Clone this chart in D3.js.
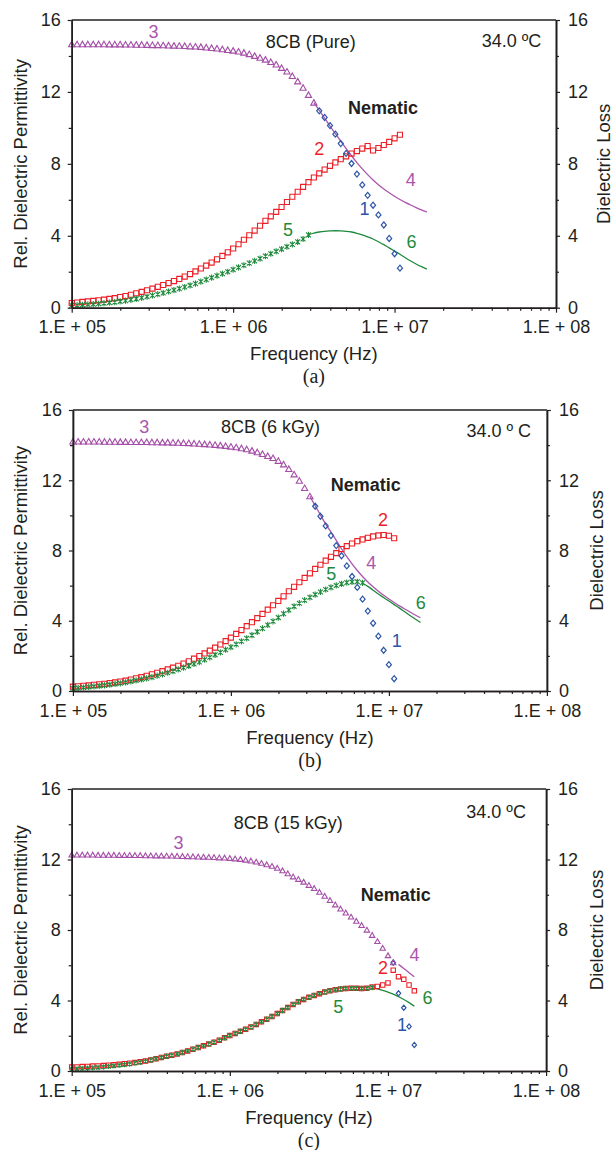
<!DOCTYPE html>
<html>
<head>
<meta charset="utf-8">
<script src="https://cdn.jsdelivr.net/npm/d3@7"></script>
<style>
  body { margin: 0; background: #fff; }
  svg { display: block; }
  text { font-family: "Liberation Sans", Arial, Helvetica, sans-serif; fill: #231f20; }
</style>
</head>
<body>
<svg id="fig" width="615" height="1150"></svg>
<script>
// ---- axis ticks ----
const decadeTicks = [1e5, 1e6, 1e7, 1e8];
const decadeLabels = ["1.E + 05", "1.E + 06", "1.E + 07", "1.E + 08"];
const minorMultipliers = [2, 3, 4, 5, 6, 7, 8, 9];
const yMajor = [0, 4, 8, 12, 16];
const yMinor = [2, 6, 10, 14];

// ---- frequency sweep: 30 points per decade starting at 100 kHz ----
const sweepStart = 1e5;
const pointsPerDecade = 30;

// ---- (a) 8CB pure ----
const aPerm3 = [14.65, 14.65, 14.65, 14.65, 14.65, 14.65, 14.65, 14.64, 14.64, 14.64, 14.63, 14.63, 14.62,
  14.62, 14.61, 14.60, 14.60, 14.59, 14.58, 14.57, 14.56, 14.55, 14.53, 14.52, 14.50,
  14.47, 14.44, 14.41, 14.37, 14.33, 14.29, 14.24, 14.18, 14.10, 14.00,
  13.90, 13.79, 13.66, 13.52, 13.33, 13.13, 12.88, 12.58, 12.23, 11.83, 11.40];
const aPerm1 = [10.95, 10.58, 10.13, 9.65, 9.13, 8.58, 8.02, 7.43, 6.83, 6.25, 5.70, 5.16, 4.60, 3.85, 3.00, 2.20];
const aFit4 = [11.40, 10.97, 10.55, 10.10, 9.68, 9.26, 8.85, 8.45, 8.07, 7.72, 7.40, 7.10, 6.84, 6.60, 6.39,
  6.20, 6.02, 5.86, 5.71, 5.57, 5.44, 5.32];
const aLoss2 = [0.26, 0.29, 0.32, 0.35, 0.38, 0.41, 0.45, 0.49, 0.53, 0.59,
  0.65, 0.72, 0.80, 0.88, 0.97, 1.06, 1.16, 1.26, 1.37, 1.48,
  1.60, 1.73, 1.87, 2.02, 2.18, 2.34, 2.51, 2.69, 2.88, 3.08,
  3.29, 3.53, 3.78, 4.03, 4.29, 4.56, 4.83, 5.08, 5.33, 5.60,
  5.88, 6.17, 6.45, 6.72, 6.98, 7.24, 7.47, 7.68, 7.89, 8.08,
  8.26, 8.42, 8.57, 8.71, 8.85, 8.99, 8.74, 8.88, 9.05, 9.22, 9.42, 9.62];
const aLoss5 = [0.13, 0.14, 0.16, 0.18, 0.20, 0.22, 0.25, 0.28, 0.31, 0.35,
  0.39, 0.44, 0.49, 0.55, 0.61, 0.68, 0.75, 0.82, 0.90, 0.98,
  1.06, 1.15, 1.24, 1.34, 1.45, 1.56, 1.67, 1.78, 1.89, 2.00,
  2.12, 2.24, 2.36, 2.48, 2.60, 2.73, 2.87, 3.00, 3.13, 3.26,
  3.39, 3.52, 3.66, 3.82, 4.05];
const aFit6 = [4.06, 4.15, 4.21, 4.25, 4.27, 4.28, 4.27, 4.25, 4.21, 4.14, 4.05, 3.94, 3.82, 3.67, 3.51,
  3.33, 3.15, 2.97, 2.78, 2.60, 2.43, 2.28, 2.14];
const aStart = { perm3: 0, perm1: 46, fit4: 45, loss2: 0, loss5: 0, fit6: 44 };

// ---- (b) 8CB 6 kGy ----
const bPerm3 = [14.20, 14.20, 14.20, 14.20, 14.20, 14.20, 14.19, 14.19, 14.19, 14.18, 14.18, 14.17, 14.17,
  14.17, 14.17, 14.16, 14.16, 14.15, 14.15, 14.14, 14.13, 14.12, 14.11, 14.09, 14.07,
  14.05, 14.03, 14.01, 13.98, 13.95, 13.91, 13.87, 13.82, 13.76, 13.68,
  13.59, 13.49, 13.38, 13.26, 13.10, 12.90, 12.64, 12.33, 11.97, 11.55, 11.08];
const bPerm1 = [10.52, 9.95, 9.40, 8.85, 8.28, 7.70, 7.12, 6.52, 5.90, 5.23, 4.55, 3.86, 3.12, 2.32, 1.50, 0.70];
const bFit4 = [11.08, 10.55, 10.03, 9.50, 9.05, 8.58, 8.10, 7.65, 7.24, 6.86, 6.52, 6.21, 5.93, 5.68, 5.45,
  5.24, 5.04, 4.85, 4.67, 4.50, 4.33, 4.17];
const bLoss2 = [0.25, 0.27, 0.30, 0.32, 0.35, 0.38, 0.41, 0.45, 0.49, 0.54,
  0.59, 0.65, 0.72, 0.79, 0.87, 0.95, 1.04, 1.13, 1.23, 1.33,
  1.44, 1.56, 1.69, 1.84, 1.99, 2.14, 2.30, 2.47, 2.65, 2.84,
  3.04, 3.25, 3.47, 3.69, 3.92, 4.15, 4.39, 4.63, 4.88, 5.13,
  5.39, 5.68, 5.93, 6.19, 6.44, 6.70, 6.95, 7.19, 7.42, 7.64,
  7.85, 8.08, 8.25, 8.40, 8.53, 8.63, 8.72, 8.80, 8.86, 8.88, 8.84, 8.70];
const bLoss5 = [0.15, 0.17, 0.20, 0.23, 0.26, 0.29, 0.32, 0.36, 0.40, 0.44,
  0.49, 0.54, 0.60, 0.66, 0.72, 0.79, 0.87, 0.95, 1.04, 1.13,
  1.23, 1.33, 1.43, 1.54, 1.65, 1.78, 1.92, 2.06, 2.20, 2.35,
  2.50, 2.66, 2.83, 3.00, 3.18, 3.37, 3.56, 3.76, 3.97, 4.18,
  4.40, 4.61, 4.82, 5.00, 5.17, 5.33, 5.49, 5.64, 5.78, 5.90,
  6.01, 6.10, 6.17, 6.21, 6.22, 6.16];
const bFit6 = [6.12, 5.96, 5.74, 5.52, 5.32, 5.12, 4.92, 4.72, 4.51, 4.30, 4.10, 3.90];
const bStart = { perm3: 0, perm1: 46, fit4: 45, loss2: 0, loss5: 0, fit6: 55 };

// ---- (c) 8CB 15 kGy ----
const cPerm3 = [12.26, 12.26, 12.26, 12.26, 12.26, 12.25, 12.25, 12.25, 12.25, 12.24, 12.24,
  12.24, 12.23, 12.23, 12.22, 12.22, 12.21, 12.21, 12.20, 12.20, 12.19,
  12.18, 12.17, 12.16, 12.15, 12.14, 12.13, 12.12, 12.10, 12.09, 12.07,
  12.04, 12.01, 11.97, 11.92, 11.86, 11.79, 11.71, 11.62, 11.51, 11.37, 11.20, 11.02,
  10.88, 10.72, 10.54, 10.36, 10.15, 9.92, 9.68, 9.43, 9.20, 8.97, 8.74, 8.50,
  8.26, 8.00, 7.70, 7.35, 6.97, 6.55, 6.15];
const cPerm1 = [6.15, 4.41, 3.59, 2.52, 1.48];
const cFit4 = [6.05, 5.82, 5.58, 5.35];
const cLoss2 = [0.22, 0.23, 0.25, 0.26, 0.28, 0.29, 0.31, 0.33, 0.35, 0.38,
  0.41, 0.44, 0.48, 0.52, 0.57, 0.63, 0.69, 0.77, 0.84, 0.90,
  0.97, 1.05, 1.14, 1.24, 1.33, 1.43, 1.53, 1.63, 1.75, 1.88,
  2.01, 2.13, 2.25, 2.37, 2.50, 2.64, 2.79, 2.94, 3.09, 3.26,
  3.43, 3.60, 3.78, 3.93, 4.06, 4.18, 4.29, 4.39, 4.48, 4.55,
  4.61, 4.65, 4.68, 4.69, 4.69, 4.68, 4.69, 4.76, 4.80, 4.88,
  5.00, 5.72, 5.35, 5.20, 4.88, 4.55];
const cLoss5 = [0.10, 0.12, 0.14, 0.16, 0.18, 0.20, 0.23, 0.26, 0.29, 0.32,
  0.36, 0.40, 0.45, 0.50, 0.56, 0.62, 0.69, 0.77, 0.84, 0.90,
  0.97, 1.05, 1.14, 1.24, 1.33, 1.43, 1.53, 1.63, 1.75, 1.88,
  2.01, 2.13, 2.25, 2.37, 2.50, 2.64, 2.79, 2.94, 3.09, 3.26,
  3.43, 3.60, 3.78, 3.93, 4.06, 4.18, 4.29, 4.39, 4.48, 4.55,
  4.61, 4.65, 4.68, 4.69, 4.69, 4.68, 4.69, 4.74];
const cFit6 = [4.72, 4.66, 4.58, 4.48, 4.36, 4.22, 4.06, 3.88, 3.68];
const cStart = { perm3: 0, perm1: 61, fit4: 62, loss2: 0, loss5: 0, fit6: 57 };

// ---- colours and marker shapes ----
const colors = {
  blue: "#2c55a8", red: "#ec1f27", purple: "#a44da6", purpleLine: "#ab55ad",
  green: "#1f8a3c", ink: "#231f20"
};
const shapes = {
  triangle: "M0,-2.7L2.7,2.1L-2.7,2.1Z",
  square: "M-2.2,-2.2H2.2V2.2H-2.2Z",
  diamond: "M0,-2.6L2.2,0L0,2.6L-2.2,0Z",
  cross: "M-2.1,-2.1L2.1,2.1M-2.1,2.1L2.1,-2.1M0,-2.7V2.7"
};

// ---- panel layout (pixel frame of each plot) ----
const panels = [
  {
    frame: { left: 71.7, right: 556, top: 20, bottom: 307.7 }, tag: "(a)", markerScale: 1.15,
    perm3: aPerm3, perm1: aPerm1, fit4: aFit4, loss2: aLoss2, loss5: aLoss5, fit6: aFit6, start: aStart,
    notes: [
      { t: "3", lf: 5.507, v: 15.35, c: colors.purpleLine },
      { t: "2", lf: 6.534, v: 8.83, c: colors.red },
      { t: "4", lf: 7.100, v: 7.10, c: colors.purpleLine },
      { t: "1", lf: 6.814, v: 5.49, c: colors.blue },
      { t: "5", lf: 6.340, v: 4.32, c: colors.green },
      { t: "6", lf: 7.105, v: 3.64, c: colors.green },
      { t: "8CB (Pure)", lf: 6.481, v: 14.79, c: colors.ink },
      { t: "34.0 ºC", lf: 7.724, v: 14.85, c: colors.ink },
      { t: "Nematic", lf: 6.928, v: 11.12, c: colors.ink, bold: true }
    ]
  },
  {
    frame: { left: 72.9, right: 546.9, top: 410, bottom: 691 }, tag: "(b)", markerScale: 1.15,
    perm3: bPerm3, perm1: bPerm1, fit4: bFit4, loss2: bLoss2, loss5: bLoss5, fit6: bFit6, start: bStart,
    notes: [
      { t: "3", lf: 5.451, v: 15.02, c: colors.purpleLine },
      { t: "2", lf: 6.963, v: 9.74, c: colors.red },
      { t: "4", lf: 6.889, v: 7.31, c: colors.purpleLine },
      { t: "5", lf: 6.635, v: 6.66, c: colors.green },
      { t: "6", lf: 7.201, v: 5.03, c: colors.green },
      { t: "1", lf: 7.049, v: 2.85, c: colors.blue },
      { t: "8CB (6 kGy)", lf: 6.251, v: 15.05, c: colors.ink },
      { t: "34.0 º C", lf: 7.695, v: 14.82, c: colors.ink },
      { t: "Nematic", lf: 6.854, v: 11.73, c: colors.ink, bold: true }
    ]
  },
  {
    frame: { left: 71.7, right: 546.1, top: 789, bottom: 1071 }, tag: "(c)", markerScale: 1,
    perm3: cPerm3, perm1: cPerm1, fit4: cFit4, loss2: cLoss2, loss5: cLoss5, fit6: cFit6, start: cStart,
    notes: [
      { t: "3", lf: 5.675, v: 12.95, c: colors.purpleLine },
      { t: "4", lf: 7.168, v: 6.58, c: colors.purpleLine },
      { t: "2", lf: 6.969, v: 5.86, c: colors.red },
      { t: "6", lf: 7.250, v: 4.16, c: colors.green },
      { t: "5", lf: 6.686, v: 3.61, c: colors.green },
      { t: "1", lf: 7.089, v: 2.61, c: colors.blue },
      { t: "8CB (15 kGy)", lf: 6.369, v: 14.05, c: colors.ink },
      { t: "34.0 ºC", lf: 7.684, v: 14.71, c: colors.ink },
      { t: "Nematic", lf: 7.050, v: 9.99, c: colors.ink, bold: true }
    ]
  }
];

const svg = d3.select("#fig");
svg.append("rect").attr("width", 615).attr("height", 1150).attr("fill", "#fff");

const sweepFreq = i => sweepStart * Math.pow(10, i / pointsPerDecade);
const toPoints = (vals, start) => vals.map((v, k) => ({ f: sweepFreq(start + k), v }));
const minorFreqs = decadeTicks.slice(0, 3).flatMap(d => minorMultipliers.map(m => d * m));

function styleAxis(sel) {
  sel.select(".domain").attr("stroke", colors.ink).attr("stroke-width", 1.6);
  sel.selectAll(".tick line").attr("stroke", colors.ink).attr("stroke-width", 1.2);
  sel.selectAll(".tick text").attr("font-size", 18).attr("fill", colors.ink)
    .attr("font-family", '"Liberation Sans", Arial, sans-serif');
}

panels.forEach(p => {
  const { left, right, top, bottom } = p.frame;
  const g = svg.append("g");
  const x = d3.scaleLog().domain([1e5, 1e8]).range([left, right]);
  const y = d3.scaleLinear().domain([0, 16]).range([bottom, top]);
  const yLoss = d3.scaleLinear().domain([0, 16]).range([bottom, top]);

  // fitted curves (lines 4 and 6)
  const line = d3.line().x(d => x(d.f)).y(d => y(d.v)).curve(d3.curveMonotoneX);
  g.append("path").datum(toPoints(p.fit4, p.start.fit4))
    .attr("d", line).attr("fill", "none").attr("stroke", colors.purpleLine).attr("stroke-width", 1.3);
  const lineLoss = d3.line().x(d => x(d.f)).y(d => yLoss(d.v)).curve(d3.curveMonotoneX);
  g.append("path").datum(toPoints(p.fit6, p.start.fit6))
    .attr("d", lineLoss).attr("fill", "none").attr("stroke", colors.green).attr("stroke-width", 1.3);

  // measured points
  const s = p.markerScale;
  function markers(pts, scale, shape, color, width) {
    g.append("g").selectAll("path").data(pts).join("path")
      .attr("transform", d => `translate(${x(d.f)},${scale(d.v)}) scale(${s})`)
      .attr("d", shape).attr("fill", "none").attr("stroke", color).attr("stroke-width", width / s);
  }
  markers(toPoints(p.loss2, p.start.loss2), yLoss, shapes.square, colors.red, 1.1);
  markers(toPoints(p.loss5, p.start.loss5), yLoss, shapes.cross, colors.green, 1.1);
  markers(toPoints(p.perm1, p.start.perm1), y, shapes.diamond, colors.blue, 1.2);
  markers(toPoints(p.perm3, p.start.perm3), y, shapes.triangle, colors.purple, 1.1);

  // axes
  g.append("line").attr("x1", left).attr("x2", right).attr("y1", top).attr("y2", top)
    .attr("stroke", colors.ink).attr("stroke-width", 1.3);

  g.append("g").attr("transform", `translate(${left},0)`)
    .call(d3.axisLeft(y).tickValues(yMinor).tickSize(3).tickSizeOuter(0).tickFormat(""))
    .call(styleAxis);
  g.append("g").attr("transform", `translate(${left},0)`)
    .call(d3.axisLeft(y).tickValues(yMajor).tickSize(4).tickPadding(7).tickSizeOuter(0).tickFormat(d3.format("d")))
    .call(styleAxis);

  g.append("g").attr("transform", `translate(${right},0)`)
    .call(d3.axisRight(yLoss).tickValues(yMinor).tickSize(3).tickSizeOuter(0).tickFormat(""))
    .call(styleAxis);
  g.append("g").attr("transform", `translate(${right},0)`)
    .call(d3.axisRight(yLoss).tickValues(yMajor).tickSize(4).tickPadding(8).tickSizeOuter(0).tickFormat(d3.format("d")))
    .call(styleAxis);

  g.append("g").attr("transform", `translate(0,${bottom})`)
    .call(d3.axisBottom(x).tickValues(minorFreqs).tickSize(3).tickSizeOuter(0).tickFormat(""))
    .call(styleAxis);
  g.append("g").attr("transform", `translate(0,${bottom})`)
    .call(d3.axisBottom(x).tickValues(decadeTicks).tickSize(5).tickPadding(8).tickSizeOuter(0)
      .tickFormat((d, i) => decadeLabels[i]))
    .call(styleAxis);

  // axis titles
  const midY = (top + bottom) / 2;
  const midX = (left + right) / 2;
  g.append("text").attr("transform", `translate(20,${midY}) rotate(-90)`)
    .attr("text-anchor", "middle").attr("dominant-baseline", "central").attr("font-size", 18.5)
    .text("Rel. Dielectric Permittivity");
  g.append("text").attr("transform", `translate(${Math.min(right + 50, 603)},${midY}) rotate(-90)`)
    .attr("text-anchor", "middle").attr("dominant-baseline", "central").attr("font-size", 18.5)
    .text("Dielectric Loss");
  g.append("text").attr("x", midX).attr("y", bottom + 46)
    .attr("text-anchor", "middle").attr("dominant-baseline", "central").attr("font-size", 18.5)
    .text("Frequency (Hz)");
  g.append("text").attr("x", midX).attr("y", bottom + 68.5)
    .attr("text-anchor", "middle").attr("dominant-baseline", "central").attr("font-size", 20)
    .style("font-family", '"Liberation Serif", "Times New Roman", serif')
    .text(p.tag);

  // in-plot annotations
  p.notes.forEach(n => {
    g.append("text").attr("x", x(Math.pow(10, n.lf))).attr("y", y(n.v))
      .attr("text-anchor", "middle").attr("dominant-baseline", "central")
      .attr("font-size", 18).attr("font-weight", n.bold ? "bold" : "normal")
      .style("fill", n.c).text(n.t);
  });
});
</script>
</body>
</html>
